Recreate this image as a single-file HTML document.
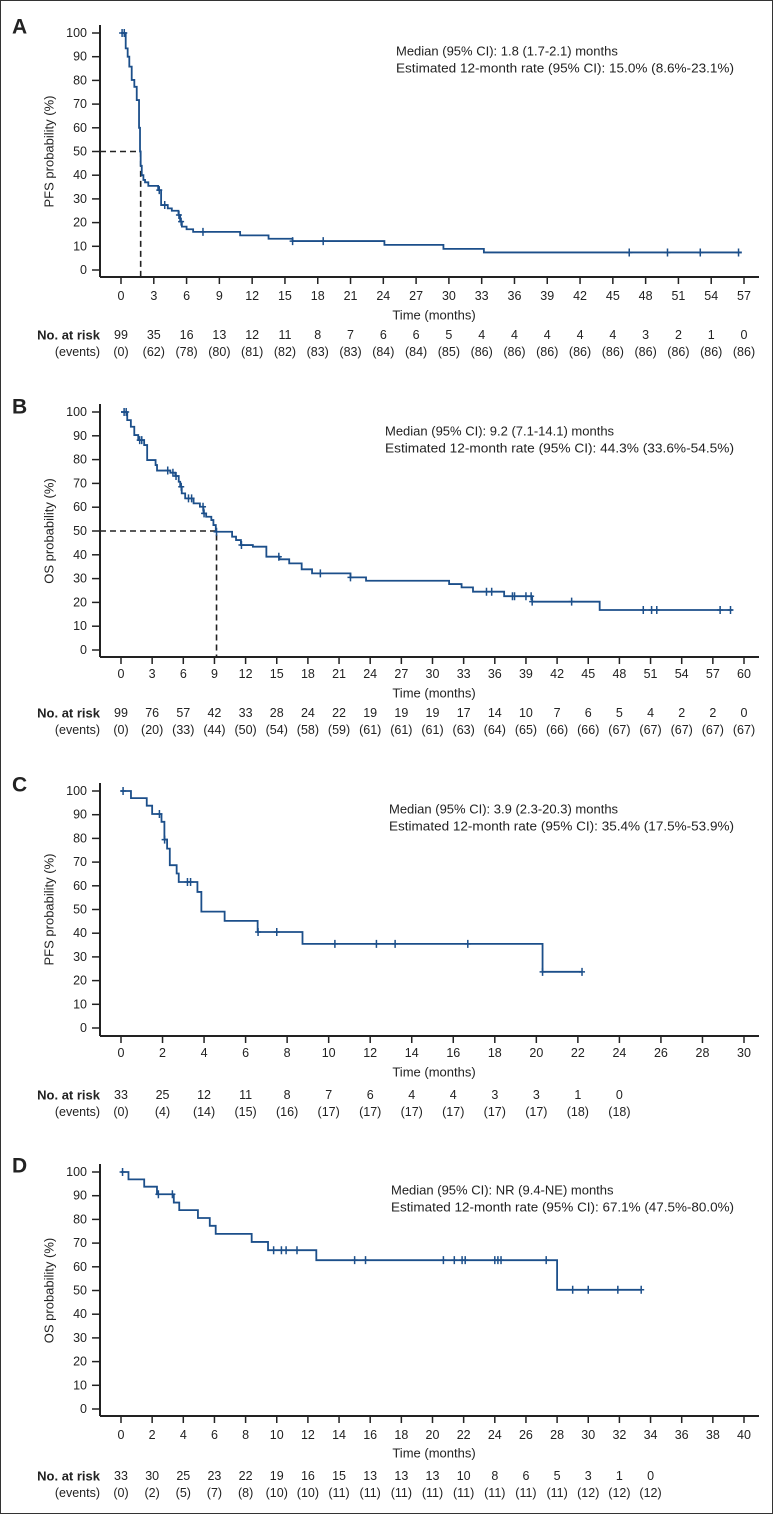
<!DOCTYPE html>
<html><head><meta charset="utf-8">
<style>
html,body{margin:0;padding:0;background:#fff;}
svg{display:block;font-family:"Liberation Sans",Arial,sans-serif;}
</style></head>
<body>
<svg id="fig" width="774" height="1515" viewBox="0 0 774 1515" xmlns="http://www.w3.org/2000/svg">
<rect x="0.5" y="0.5" width="772" height="1513" fill="#fff" stroke="#333" stroke-width="1"/>
</svg>
<script>
// ---------- Panel A data (PFS) ----------
const aTimes = [0,0.43,0.61,0.76,0.98,1.22,1.44,1.65,1.74,1.8,1.9,2.05,2.2,2.5,3.4,3.67,4.28,4.65,5.26,5.41,5.57,6.0,6.6,10.9,13.5,15.7,24.1,29.5,33.2];
const aSurv  = [100,93.5,90,85.8,80.2,77.3,71.7,60,50,44,40,38,37,35.5,33.7,27.4,26,25,23.2,20.4,18.3,17.2,16.1,14.6,13.2,12.2,10.6,8.9,7.4];
const aEnd = 56.8;
const aCensT = [0.1,0.3,3.5,4.0,5.3,5.5,7.5,15.7,18.5,46.5,50,53,56.5];
const aTicks = [0,3,6,9,12,15,18,21,24,27,30,33,36,39,42,45,48,51,54,57];
const aRisk = [99,35,16,13,12,11,8,7,6,6,5,4,4,4,4,4,3,2,1,0];
const aEvents = [0,62,78,80,81,82,83,83,84,84,85,86,86,86,86,86,86,86,86,86];

// ---------- Panel B data (OS) ----------
const bTimes = [0,0.6,0.95,1.28,1.66,2.23,2.52,3.33,3.47,4.75,5.23,5.56,5.7,5.85,6.18,6.99,7.6,7.94,8.2,8.7,8.9,9.13,10.7,11.08,11.55,12.7,14.0,15.26,16.2,17.4,18.4,22.1,23.6,31.6,32.8,33.9,36.9,39.6,46.1];
const bSurv  = [100,96.6,93.8,90.3,88.2,86.1,79.8,77.7,75.4,74.5,73.1,70.7,68.6,65.8,63.7,61.6,60.2,57.4,56,54.6,52.5,49.7,47.6,46.2,44.1,43.4,39.2,38.1,36.4,33.9,32.2,30.5,29.1,27.7,26.3,24.5,22.6,20.3,16.8];
const bEnd = 58.9;
const bCensT = [0.3,0.5,1.8,2.0,4.5,5.0,5.3,5.8,6.5,6.8,7.9,8.0,9.2,11.6,15.2,19.2,22.1,35.2,35.7,37.7,37.9,39.0,39.5,39.6,43.4,50.3,51.1,51.6,57.7,58.7];
const bTicks = [0,3,6,9,12,15,18,21,24,27,30,33,36,39,42,45,48,51,54,57,60];
const bRisk = [99,76,57,42,33,28,24,22,19,19,19,17,14,10,7,6,5,4,2,2,0];
const bEvents = [0,20,33,44,50,54,58,59,61,61,61,63,64,65,66,66,67,67,67,67,67];

// ---------- Panel C data (PFS) ----------
const cTimes = [0,0.48,1.24,1.5,1.95,2.09,2.22,2.35,2.68,2.78,3.68,3.87,4.99,6.58,8.74,20.3];
const cSurv  = [100,97,93.8,90.3,87,79.5,75.7,68.7,65.2,61.6,57.4,49.1,45.2,40.5,35.5,23.7];
const cEnd = 22.2;
const cCensT = [0.1,1.85,2.1,3.2,3.35,6.6,7.5,10.3,12.3,13.2,16.7,20.3,22.2];
const cTicks = [0,2,4,6,8,10,12,14,16,18,20,22,24,26,28,30];
const cRisk = [33,25,12,11,8,7,6,4,4,3,3,1,0];
const cEvents = [0,4,14,15,16,17,17,17,17,17,17,18,18];

// ---------- Panel D data (OS) ----------
const dTimes = [0,0.48,1.49,2.31,3.39,3.74,4.94,5.7,6.08,8.39,9.44,12.54,28.0];
const dSurv  = [100,96.9,93.8,90.6,87.1,83.9,80.6,77.3,73.9,70.5,67,62.8,50.3];
const dEnd = 33.4;
const dCensT = [0.1,2.4,3.3,9.8,10.3,10.6,11.3,15.0,15.7,20.7,21.4,21.9,22.1,24.0,24.2,24.4,27.3,29.0,30.0,31.9,33.4];
const dTicks = [0,2,4,6,8,10,12,14,16,18,20,22,24,26,28,30,32,34,36,38,40];
const dRisk = [33,30,25,23,22,19,16,15,13,13,13,10,8,6,5,3,1,0];
const dEvents = [0,2,5,7,8,10,10,11,11,11,11,11,11,11,11,12,12,12];

const NS = "http://www.w3.org/2000/svg";
const svg = document.getElementById('fig');
const BLUE = "#1c4f8a";
const X0 = 121, X1 = 744, AXL = 100, AXR = 759;

function el(tag, attrs, parent){
  const e = document.createElementNS(NS, tag);
  for (const k in attrs) e.setAttribute(k, attrs[k]);
  (parent||svg).appendChild(e);
  return e;
}
function txt(parent, x, y, s, size, anchor, weight){
  const t = el('text', {x:x, y:y, 'font-size':size, 'text-anchor':anchor||'middle', 'dominant-baseline':'central', fill:'#222', 'font-weight':weight||'normal'}, parent);
  t.textContent = s;
  return t;
}
function survAt(times, surv, t){
  let v = surv[0];
  for (let i=0;i<times.length;i++){ if (times[i] <= t) v = surv[i]; }
  return v;
}

function panel(p){
  const g = el('g', {});
  
  
  const xmax = p.ticks[p.ticks.length-1];
  const sx = t => X0 + (X1 - X0) * t / xmax;
  const sy = v => p.y0 + (p.y100 - p.y0) * v / 100;

  const letter = txt(g, 12, p.letterY, p.letter, 21, 'start', 'bold');
  
  

  // y axis
  const ya = el('line', {x1:AXL, y1:p.y100-8, x2:AXL, y2:p.base, stroke:'#222', 'stroke-width':2}, g);
  
  
  for (let v=0; v<=100; v+=10){
    el('line', {x1:92, y1:sy(v), x2:AXL, y2:sy(v), stroke:'#222', 'stroke-width':1.5}, g);
    const tl = txt(g, 87, sy(v), String(v), 12.5, 'end');
    
    
  }
  const yt = txt(g, 0, 0, p.ytitle, 13, 'middle');
  yt.setAttribute('transform', `translate(49,${(p.y100+p.y0)/2}) rotate(-90)`);
  
  

  // x axis
  const xa = el('line', {x1:AXL, y1:p.base, x2:AXR, y2:p.base, stroke:'#222', 'stroke-width':2}, g);
  
  
  p.ticks.forEach(t => {
    el('line', {x1:sx(t), y1:p.base, x2:sx(t), y2:p.base+7, stroke:'#222', 'stroke-width':1.5}, g);
    const tl = txt(g, sx(t), p.tickY, String(t), 12.5, 'middle');
    
    
  });
  const xt = txt(g, 434, p.titleY, 'Time (months)', 13, 'middle');
  
  

  // median dashed line
  if (p.median !== null){
    const md = el('path', {d:`M${AXL},${sy(50)} H${sx(p.median)} V${p.base}`, fill:'none', stroke:'#222', 'stroke-width':1.6, 'stroke-dasharray':'6,4'}, g);
    
    
  }

  // curve
  let d = `M${sx(p.times[0])},${sy(p.surv[0])}`;
  for (let i=1;i<p.times.length;i++){
    d += ` H${sx(p.times[i])} V${sy(p.surv[i])}`;
  }
  d += ` H${sx(p.end)}`;
  const curve = el('path', {d:d, fill:'none', stroke:BLUE, 'stroke-width':1.8}, g);
  
  

  p.cens.forEach(t => {
    const y = sy(survAt(p.times, p.surv, t));
    const c = el('path', {d:`M${sx(t)-3},${y} H${sx(t)+3} M${sx(t)},${y-4} V${y+4}`, stroke:BLUE, 'stroke-width':1.5}, g);
    
    
  });

  // annotation
  const m1 = txt(g, p.annX, p.annY, p.ann1, 13, 'start');
  
  
  const m2 = txt(g, p.annX, p.annY+17, p.ann2, 13, 'start');
  m2.setAttribute('textLength', 734 - p.annX);
  m2.setAttribute('lengthAdjust', 'spacingAndGlyphs');
  
  

  // risk table
  const r1 = txt(g, 100, p.riskY, 'No. at risk', 13, 'end', 'bold');
  
  
  const r2 = txt(g, 100, p.evY, '(events)', 12.5, 'end');
  
  
  p.risk.forEach((n, i) => {
    const a = txt(g, sx(p.ticks[i]), p.riskY, String(n), 12.5, 'middle');
    
    
    const b = txt(g, sx(p.ticks[i]), p.evY, '(' + p.events[i] + ')', 12.5, 'middle');
    
    
  });
}

panel({key:'a', letter:'A', letterY:27, y100:33, y0:270, base:277, tickY:296, titleY:315, riskY:335, evY:352,
  ytitle:'PFS probability (%)', times:aTimes, surv:aSurv, end:aEnd, cens:aCensT, ticks:aTicks, risk:aRisk, events:aEvents,
  median:1.8, annX:396, annY:51, ann1:'Median (95% CI): 1.8 (1.7-2.1) months', ann2:'Estimated 12-month rate (95% CI): 15.0% (8.6%-23.1%)'});
panel({key:'b', letter:'B', letterY:407, y100:412, y0:650, base:657, tickY:674, titleY:693, riskY:713, evY:730,
  ytitle:'OS probability (%)', times:bTimes, surv:bSurv, end:bEnd, cens:bCensT, ticks:bTicks, risk:bRisk, events:bEvents,
  median:9.2, annX:385, annY:431, ann1:'Median (95% CI): 9.2 (7.1-14.1) months', ann2:'Estimated 12-month rate (95% CI): 44.3% (33.6%-54.5%)'});
panel({key:'c', letter:'C', letterY:785, y100:791, y0:1028, base:1036, tickY:1053, titleY:1072, riskY:1095, evY:1112,
  ytitle:'PFS probability (%)', times:cTimes, surv:cSurv, end:cEnd, cens:cCensT, ticks:cTicks, risk:cRisk, events:cEvents,
  median:null, annX:389, annY:809, ann1:'Median (95% CI): 3.9 (2.3-20.3) months', ann2:'Estimated 12-month rate (95% CI): 35.4% (17.5%-53.9%)'});
panel({key:'d', letter:'D', letterY:1166, y100:1172, y0:1409, base:1416, tickY:1435, titleY:1453, riskY:1476, evY:1493,
  ytitle:'OS probability (%)', times:dTimes, surv:dSurv, end:dEnd, cens:dCensT, ticks:dTicks, risk:dRisk, events:dEvents,
  median:null, annX:391, annY:1190, ann1:'Median (95% CI): NR (9.4-NE) months', ann2:'Estimated 12-month rate (95% CI): 67.1% (47.5%-80.0%)'});
</script>
</body></html>
